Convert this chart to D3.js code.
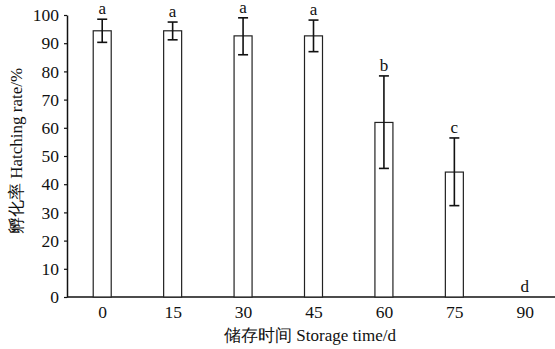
<!DOCTYPE html>
<html>
<head>
<meta charset="utf-8">
<script src="https://cdn.jsdelivr.net/npm/d3@7"></script>
<style>
  html, body { margin: 0; padding: 0; background: #fff; }
  svg { display: block; }
  text { font-family: "Liberation Serif", "Times New Roman", serif; fill: #111; }
</style>
</head>
<body>
<svg id="chart" width="555" height="349"></svg>
<script>
// Storage time (days) and hatching rate (%) with error bars and significance letters
const categories = ["0", "15", "30", "45", "60", "75", "90"];
const means      = [94.4, 94.4, 92.6, 92.6, 61.9, 44.3, 0];
const errUpper   = [98.5, 97.5, 99.0, 98.2, 78.4, 56.4, 0];
const errLower   = [90.3, 91.2, 85.9, 87.0, 45.6, 32.4, 0];
const letters    = ["a", "a", "a", "a", "b", "c", "d"];
const yTicks     = [0, 10, 20, 30, 40, 50, 60, 70, 80, 90, 100];

const svg = d3.select("#chart");
const plotLeft = 67, plotRight = 560, plotTop = 15, plotBottom = 297;
const serif = "'Liberation Serif', 'Times New Roman', serif";

const x = d3.scalePoint().domain(categories).range([plotLeft, plotRight]).padding(0.5);
const y = d3.scaleLinear().domain([0, 100]).range([plotBottom, plotTop]);
const barW = 18, capW = 10;

// y axis
const yAxis = svg.append("g")
  .attr("transform", `translate(${plotLeft},0)`)
  .call(d3.axisLeft(y).tickValues(yTicks).tickSize(3).tickSizeOuter(0).tickPadding(5));
yAxis.select(".domain").attr("stroke", "#111").attr("stroke-width", 1.5);
yAxis.selectAll(".tick line").attr("stroke", "#111").attr("stroke-width", 1.2);
yAxis.selectAll(".tick text").style("font-size", "17.5px").attr("fill", "#111")
  .style("font-family", serif);

// x axis (baseline with labels, no tick marks)
const xAxis = svg.append("g")
  .attr("transform", `translate(0,${plotBottom})`)
  .call(d3.axisBottom(x).tickSize(0).tickPadding(9));
xAxis.select(".domain").attr("d", `M${plotLeft},0H555`).attr("stroke", "#111").attr("stroke-width", 1.5);
xAxis.selectAll(".tick text").style("font-size", "17.5px").attr("fill", "#111")
  .style("font-family", serif);

const data = categories.map((c, i) => ({
  c, m: means[i], hi: errUpper[i], lo: errLower[i], l: letters[i]
}));

// bars
svg.append("g").selectAll("rect").data(data).join("rect")
  .attr("x", d => x(d.c) - barW / 2)
  .attr("y", d => y(d.m))
  .attr("width", barW)
  .attr("height", d => y(0) - y(d.m))
  .attr("fill", "#fff")
  .attr("stroke", "#222")
  .attr("stroke-width", 1.2);

// error bars
const eb = svg.append("g").attr("stroke", "#111").attr("stroke-width", 1.6)
  .selectAll("g").data(data.filter(d => d.hi > d.lo)).join("g");
eb.append("line")
  .attr("x1", d => x(d.c)).attr("x2", d => x(d.c))
  .attr("y1", d => y(d.hi)).attr("y2", d => y(d.lo));
eb.append("line")
  .attr("x1", d => x(d.c) - capW / 2).attr("x2", d => x(d.c) + capW / 2)
  .attr("y1", d => y(d.hi)).attr("y2", d => y(d.hi));
eb.append("line")
  .attr("x1", d => x(d.c) - capW / 2).attr("x2", d => x(d.c) + capW / 2)
  .attr("y1", d => y(d.lo)).attr("y2", d => y(d.lo));

// significance letters
svg.append("g").selectAll("text").data(data).join("text")
  .attr("x", d => x(d.c))
  .attr("y", d => y(d.hi) - 5)
  .attr("text-anchor", "middle")
  .style("font-size", "17px")
  .text(d => d.l);

// axis titles
svg.append("text")
  .attr("x", 310).attr("y", 341)
  .attr("text-anchor", "middle")
  .style("font-size", "17px")
  .text("储存时间 Storage time/d");

svg.append("text")
  .attr("transform", `translate(22,151) rotate(-90)`)
  .attr("text-anchor", "middle")
  .style("font-size", "17px")
  .text("孵化率 Hatching rate/%");
</script>
</body>
</html>
